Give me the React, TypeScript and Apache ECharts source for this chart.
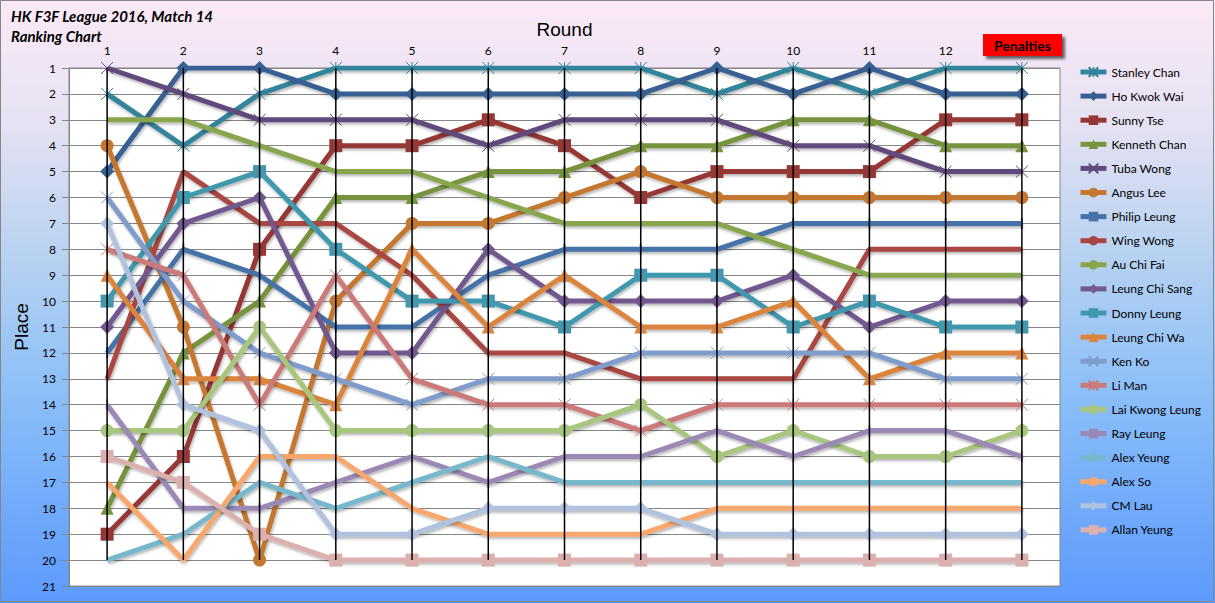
import React, { useEffect, useRef } from "react";
import * as echarts from "echarts";

const rounds = ["1", "2", "3", "4", "5", "6", "7", "8", "9", "10", "11", "12", ""];
const yTicks = [1, 21];

const names = [
  "Stanley Chan", "Ho Kwok Wai", "Sunny Tse", "Kenneth Chan", "Tuba Wong",
  "Angus Lee", "Philip Leung", "Wing Wong", "Au Chi Fai", "Leung Chi Sang",
  "Donny Leung", "Leung Chi Wa", "Ken Ko", "Li Man", "Lai Kwong Leung",
  "Ray Leung", "Alex Yeung", "Alex So", "CM Lau", "Allan Yeung",
];

const stanleyChan = [2, 4, 2, 1, 1, 1, 1, 1, 2, 1, 2, 1, 1];
const hoKwokWai = [5, 1, 1, 2, 2, 2, 2, 2, 1, 2, 1, 2, 2];
const sunnyTse = [19, 16, 8, 4, 4, 3, 4, 6, 5, 5, 5, 3, 3];
const kennethChan = [18, 12, 10, 6, 6, 5, 5, 4, 4, 3, 3, 4, 4];
const tubaWong = [1, 2, 3, 3, 3, 4, 3, 3, 3, 4, 4, 5, 5];
const angusLee = [4, 11, 20, 10, 7, 7, 6, 5, 6, 6, 6, 6, 6];
const philipLeung = [12, 8, 9, 11, 11, 9, 8, 8, 8, 7, 7, 7, 7];
const wingWong = [13, 5, 7, 7, 9, 12, 12, 13, 13, 13, 8, 8, 8];
const auChiFai = [3, 3, 4, 5, 5, 6, 7, 7, 7, 8, 9, 9, 9];
const leungChiSang = [11, 7, 6, 12, 12, 8, 10, 10, 10, 9, 11, 10, 10];
const donnyLeung = [10, 6, 5, 8, 10, 10, 11, 9, 9, 11, 10, 11, 11];
const leungChiWa = [9, 13, 13, 14, 8, 11, 9, 11, 11, 10, 13, 12, 12];
const kenKo = [6, 10, 12, 13, 14, 13, 13, 12, 12, 12, 12, 13, 13];
const liMan = [8, 9, 14, 9, 13, 14, 14, 15, 14, 14, 14, 14, 14];
const laiKwongLeung = [15, 15, 11, 15, 15, 15, 15, 14, 16, 15, 16, 16, 15];
const rayLeung = [14, 18, 18, 17, 16, 17, 16, 16, 15, 16, 15, 15, 16];
const alexYeung = [20, 19, 17, 18, 17, 16, 17, 17, 17, 17, 17, 17, 17];
const alexSo = [17, 20, 16, 16, 18, 19, 19, 19, 18, 18, 18, 18, 18];
const cmLau = [7, 14, 15, 19, 19, 18, 18, 18, 19, 19, 19, 19, 19];
const allanYeung = [16, 17, 19, 20, 20, 20, 20, 20, 20, 20, 20, 20, 20];

const seriesValues = [
  stanleyChan, hoKwokWai, sunnyTse, kennethChan, tubaWong, angusLee, philipLeung,
  wingWong, auChiFai, leungChiSang, donnyLeung, leungChiWa, kenKo, liMan,
  laiKwongLeung, rayLeung, alexYeung, alexSo, cmLau, allanYeung,
];

const colors = [
  "#31849B", "#376092", "#953735", "#77933C", "#604A7B", "#C4772F", "#4572A7",
  "#AA4643", "#89A54E", "#71588F", "#4198AF", "#DB843D", "#7F9CCB", "#CB7A79",
  "#A9C67E", "#9A89B5", "#78B8CC", "#F9A86D", "#B0C2DD", "#DBB0AF",
];

const ASTER = "path://M0,0L10,10M10,0L0,10M5,0L5,10";
const XMARK = "path://M0,0L10,10M10,0L0,10";

const symbols: any[] = [
  ASTER, "diamond", "rect", "triangle", XMARK, "circle", "rect",
  "none", "none", "diamond", "rect", "triangle", XMARK, ASTER,
  "circle", "rect", "none", "none", "diamond", "rect",
];

const symbolSizes: any[] = [
  12, 14, 13, 13, 12, 13, [2, 11],
  0, 0, 14, 13, 13, 12, 12,
  13, [2, 11], 0, 0, 14, 13,
];

export default function App() {
  const ref = useRef<HTMLDivElement>(null);

  useEffect(() => {
    if (!ref.current) return;
    const chart = echarts.init(ref.current, null, { renderer: "svg" });

    const hiLo = rounds.map((_, i) => {
      const vals = seriesValues.map((s) => s[i]);
      return [i, Math.min(...vals), Math.max(...vals)];
    });

    const lineSeries = names.map((name, k) => {
      const isPath = typeof symbols[k] === "string" && symbols[k].startsWith("path://");
      return {
        name,
        type: "line",
        data: seriesValues[k],
        symbol: symbols[k],
        symbolSize: symbolSizes[k],
        showSymbol: symbols[k] !== "none",
        lineStyle: {
          color: colors[k],
          width: 5,
          shadowColor: "rgba(0,0,0,0.3)",
          shadowBlur: 3,
          shadowOffsetX: 1,
          shadowOffsetY: 2,
        },
        itemStyle: isPath
          ? { color: colors[k], borderColor: colors[k], borderWidth: 1 }
          : { color: colors[k] },
        emphasis: { disabled: true },
        z: 2,
      };
    });

    const option: any = {
      animation: false,
      backgroundColor: {
        type: "linear",
        x: 0, y: 0, x2: 0, y2: 1,
        colorStops: [
          { offset: 0, color: "#FCE9F7" },
          { offset: 0.2, color: "#E6E2F3" },
          { offset: 0.45, color: "#B2D0F1" },
          { offset: 0.65, color: "#8CBFF8" },
          { offset: 1, color: "#5C9AFE" },
        ],
      },
      textStyle: { fontFamily: "Lato, 'Open Sans', sans-serif" },
      grid: {
        left: 69, right: 155, top: 68, bottom: 17,
        show: true, backgroundColor: "#FFFFFF", borderColor: "#868686", borderWidth: 1,
      },
      title: {
        text: "HK F3F League 2016, Match 14\nRanking Chart",
        left: 11, top: 6,
        padding: 0,
        textStyle: {
          fontSize: 15, fontWeight: "bold", fontStyle: "italic", color: "#000",
          lineHeight: 20, fontFamily: "Lato, sans-serif",
        },
      },
      legend: {
        data: names,
        orient: "vertical",
        left: 1078, top: 66,
        padding: 0,
        itemWidth: 26, itemHeight: 12, itemGap: 12.1,
        lineStyle: { width: 5 },
        textStyle: { fontSize: 12, color: "#000", fontFamily: "Lato, sans-serif" },
        selectedMode: false,
      },
      xAxis: {
        type: "category",
        data: rounds,
        position: "top",
        boundaryGap: true,
        name: "Round",
        nameLocation: "middle",
        nameGap: 38,
        nameTextStyle: { fontSize: 19, color: "#000", fontFamily: "Arial, 'Liberation Sans', sans-serif", padding: [0, 0, -10, 0] },
        axisLine: { show: false },
        axisTick: { show: false },
        axisLabel: { color: "#000", fontSize: 12, margin: 12, fontFamily: "Lato, sans-serif" },
        splitLine: { show: false },
      },
      yAxis: {
        type: "value",
        inverse: true,
        min: yTicks[0],
        max: yTicks[1],
        interval: 1,
        name: "Place",
        nameLocation: "middle",
        nameGap: 30,
        nameRotate: 90,
        nameTextStyle: { fontSize: 19, color: "#000", fontFamily: "Arial, 'Liberation Sans', sans-serif" },
        axisLine: { show: true, lineStyle: { color: "#868686", width: 1 } },
        axisTick: { show: true, length: 7, lineStyle: { color: "#868686" } },
        axisLabel: { color: "#000", fontSize: 12, margin: 13, fontFamily: "Lato, sans-serif" },
        splitLine: { show: true, lineStyle: { color: "#868686", width: 1 } },
      },
      series: [
        ...lineSeries,
        {
          name: "hilo",
          type: "custom",
          data: hiLo,
          z: 10,
          silent: true,
          renderItem: (params: any, api: any) => {
            const p1 = api.coord([api.value(0), api.value(1)]);
            const p2 = api.coord([api.value(0), api.value(2)]);
            return {
              type: "line",
              shape: { x1: p1[0], y1: p1[1], x2: p2[0], y2: p2[1] },
              style: { stroke: "#000", lineWidth: 1.5 },
            };
          },
        },
      ],
      graphic: [
        {
          type: "rect",
          shape: { x: 0.5, y: 0.5, width: 1213, height: 601 },
          style: { fill: "none", stroke: "#868686", lineWidth: 1 },
          silent: true,
        },
        {
          type: "group",
          left: 983, top: 34,
          children: [
            {
              type: "rect",
              shape: { x: 0, y: 0, width: 79, height: 22 },
              style: {
                fill: "#FF0000",
                shadowColor: "rgba(0,0,0,0.6)",
                shadowBlur: 3,
                shadowOffsetX: 3,
                shadowOffsetY: 3,
              },
            },
            {
              type: "text",
              x: 39.5, y: 11,
              style: {
                text: "Penalties",
                fill: "#000",
                font: "bold 14px Lato, sans-serif",
                align: "center",
                verticalAlign: "middle",
              },
            },
          ],
        },
      ],
    };

    chart.setOption(option);
    return () => chart.dispose();
  }, []);

  return (
    <div
      ref={ref}
      style={{ position: "fixed", left: 0, top: 0, width: 1215, height: 603 }}
    />
  );
}
